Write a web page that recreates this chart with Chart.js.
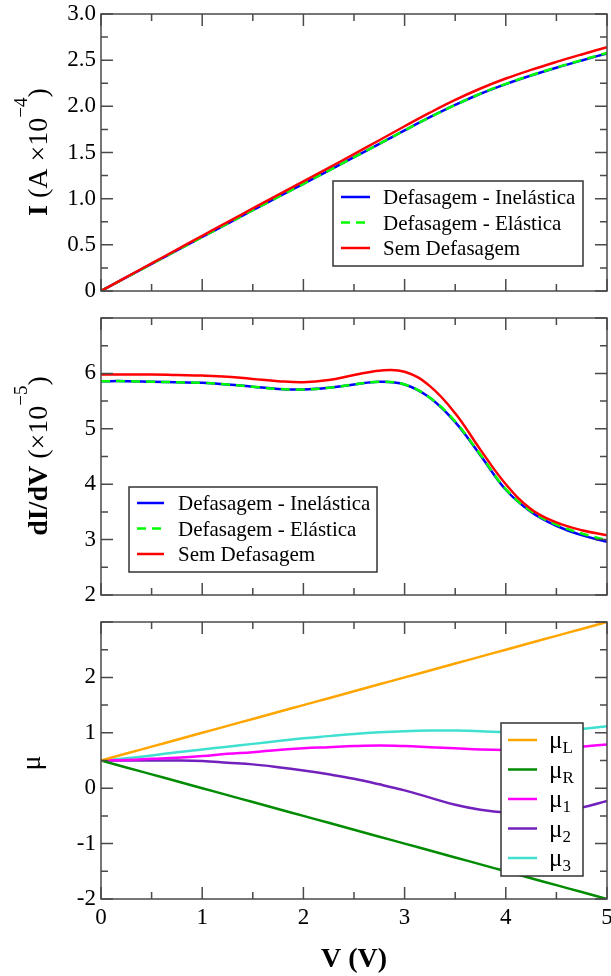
<!DOCTYPE html>
<html>
<head>
<meta charset="utf-8">
<script src="https://cdn.jsdelivr.net/npm/chart.js@4.4.1/dist/chart.umd.min.js"></script>
<style>
  body { margin: 0; background: #fff; }
  #wrap { position: relative; width: 611px; height: 976px; }
  canvas { position: absolute; left: 0; }
</style>
</head>
<body>
<div id="wrap">
  <canvas id="currentChart" style="top:0px" width="611" height="305"></canvas>
  <canvas id="conductanceChart" style="top:305px" width="611" height="305"></canvas>
  <canvas id="potentialChart" style="top:610px" width="611" height="366"></canvas>
</div>
<script>
const voltage = [0, 0.25, 0.5, 0.75, 1, 1.25, 1.5, 1.75, 2, 2.25, 2.5, 2.75, 3, 3.25, 3.5, 3.75, 4, 4.25, 4.5, 4.75, 5];

// I (A x 10^-4)
const currentInelastic = [0, 0.147, 0.293, 0.439, 0.585, 0.730, 0.875, 1.018, 1.161, 1.304, 1.449, 1.594, 1.740, 1.882, 2.015, 2.136, 2.241, 2.334, 2.418, 2.497, 2.573];
const currentElastic = [0, 0.147, 0.293, 0.439, 0.585, 0.730, 0.875, 1.018, 1.161, 1.304, 1.449, 1.594, 1.740, 1.882, 2.015, 2.137, 2.243, 2.336, 2.421, 2.501, 2.578];
const currentCoherent = [0, 0.150, 0.299, 0.448, 0.598, 0.746, 0.894, 1.041, 1.188, 1.334, 1.482, 1.633, 1.784, 1.931, 2.069, 2.193, 2.301, 2.395, 2.481, 2.562, 2.640];

// dI/dV (x 10^-5)
const condInelastic = [5.86, 5.86, 5.85, 5.84, 5.83, 5.80, 5.76, 5.72, 5.71, 5.74, 5.80, 5.85, 5.80, 5.56, 5.12, 4.52, 3.90, 3.50, 3.25, 3.08, 2.96];
const condElastic = [5.86, 5.86, 5.85, 5.84, 5.83, 5.80, 5.76, 5.72, 5.71, 5.74, 5.80, 5.85, 5.80, 5.56, 5.13, 4.53, 3.91, 3.51, 3.27, 3.11, 2.99];
const condCoherent = [5.98, 5.98, 5.98, 5.97, 5.96, 5.94, 5.90, 5.86, 5.84, 5.88, 5.97, 6.05, 6.03, 5.77, 5.28, 4.62, 4.00, 3.55, 3.31, 3.17, 3.08];

// chemical potentials
const muL = [0.5, 0.625, 0.75, 0.875, 1.0, 1.125, 1.25, 1.375, 1.5, 1.625, 1.75, 1.875, 2.0, 2.125, 2.25, 2.375, 2.5, 2.625, 2.75, 2.875, 3.0];
const muR = [0.5, 0.375, 0.25, 0.125, 0, -0.125, -0.25, -0.375, -0.5, -0.625, -0.75, -0.875, -1.0, -1.125, -1.25, -1.375, -1.5, -1.625, -1.75, -1.875, -2.0];
const mu1 = [0.50, 0.51, 0.53, 0.55, 0.58, 0.62, 0.65, 0.69, 0.72, 0.74, 0.76, 0.77, 0.76, 0.74, 0.72, 0.70, 0.69, 0.69, 0.71, 0.75, 0.79];
const mu2 = [0.50, 0.50, 0.50, 0.50, 0.49, 0.46, 0.43, 0.38, 0.32, 0.25, 0.17, 0.07, -0.04, -0.17, -0.30, -0.39, -0.44, -0.44, -0.41, -0.35, -0.23];
const mu3 = [0.50, 0.54, 0.59, 0.65, 0.70, 0.75, 0.80, 0.85, 0.90, 0.94, 0.98, 1.01, 1.03, 1.04, 1.04, 1.03, 1.01, 1.01, 1.03, 1.07, 1.12];

const dephasingLabels = ["Defasagem - Inelástica", "Defasagem - Elástica", "Sem Defasagem"];
const muSubs = ["L", "R", "1", "2", "3"];

const serif = '"Liberation Serif", "Times New Roman", serif';
const frameColor = "#4a4a4a";

Chart.defaults.font.family = serif;
Chart.defaults.color = "#000";

function pts(arr) {
  return voltage.map((v, i) => ({ x: v, y: arr[i] }));
}

function line(data, color, order, dash) {
  return {
    data: pts(data),
    borderColor: color,
    borderWidth: 2.5,
    borderDash: dash || [],
    pointRadius: 0,
    fill: false,
    tension: 0.4,
    order: order,
  };
}

function drawRuns(ctx, runs, x, y, align) {
  let total = 0;
  runs.forEach((r) => {
    ctx.font = r.font;
    r.w = ctx.measureText(r.text).width;
    total += r.w;
  });
  let cx = align === "center" ? x - total / 2 : x;
  ctx.textAlign = "left";
  ctx.textBaseline = "alphabetic";
  ctx.fillStyle = "#000";
  runs.forEach((r) => {
    ctx.font = r.font;
    ctx.fillText(r.text, cx, y + (r.dy || 0));
    cx += r.w;
  });
}

function decor(p) {
  return {
    id: "decor",
    afterDatasetsDraw(chart) {
      const { ctx, chartArea: a } = chart;
      const x = chart.scales.x;
      const y = chart.scales.y;
      ctx.save();
      ctx.strokeStyle = frameColor;
      ctx.lineWidth = 1.5;
      ctx.beginPath();
      for (let k = 0; k <= 10; k++) {
        const px = x.getPixelForValue(k * 0.5);
        const len = k % 2 === 0 ? 12 : 7;
        ctx.moveTo(px, a.bottom);
        ctx.lineTo(px, a.bottom - len);
        ctx.moveTo(px, a.top);
        ctx.lineTo(px, a.top + len);
      }
      const nY = Math.round((y.max - y.min) / p.yMinor);
      for (let k = 0; k <= nY; k++) {
        const py = y.getPixelForValue(y.min + k * p.yMinor);
        const len = k % 2 === 0 ? 12 : 7;
        ctx.moveTo(a.left, py);
        ctx.lineTo(a.left + len, py);
        ctx.moveTo(a.right, py);
        ctx.lineTo(a.right - len, py);
      }
      ctx.stroke();
      ctx.strokeRect(a.left, a.top, a.right - a.left, a.bottom - a.top);

      // legend box
      const lg = p.legend;
      ctx.fillStyle = "#fff";
      ctx.fillRect(lg.left, lg.top, lg.width, lg.height);
      ctx.strokeStyle = "#333";
      ctx.lineWidth = 1.5;
      ctx.strokeRect(lg.left, lg.top, lg.width, lg.height);
      lg.items.forEach((it, i) => {
        const ry = lg.top + lg.first + i * lg.step;
        ctx.strokeStyle = it.color;
        ctx.lineWidth = 2.5;
        ctx.setLineDash(it.dash || []);
        ctx.beginPath();
        ctx.moveTo(lg.left + lg.x0, ry);
        ctx.lineTo(lg.left + lg.x1, ry);
        ctx.stroke();
        ctx.setLineDash([]);
        drawRuns(ctx, it.runs, lg.left + lg.tx, ry + lg.dy, "left");
      });

      // y title (rotated)
      ctx.save();
      ctx.translate(p.yTitle.x, p.yTitle.y);
      ctx.rotate(-Math.PI / 2);
      drawRuns(ctx, p.yTitle.runs, 0, 0, "center");
      ctx.restore();

      if (p.xTitle) {
        drawRuns(ctx, p.xTitle.runs, (a.left + a.right) / 2, p.xTitle.y, "center");
      }
      ctx.restore();
    },
  };
}

function makeChart(id, cfg) {
  const ctx = document.getElementById(id).getContext("2d");
  return new Chart(ctx, {
    type: "line",
    data: { datasets: cfg.datasets },
    options: {
      responsive: false,
      animation: false,
      devicePixelRatio: 1,
      layout: { padding: { top: cfg.padTop, right: 4, left: 0, bottom: 0 } },
      plugins: { legend: { display: false }, tooltip: { enabled: false } },
      scales: {
        x: {
          type: "linear",
          min: 0,
          max: 5,
          grid: { display: false, drawTicks: false },
          border: { display: false },
          ticks: {
            display: cfg.showX,
            stepSize: 1,
            padding: 5,
            maxRotation: 0,
            autoSkip: false,
            color: "#000",
            font: { family: serif, size: 23 },
          },
          afterFit: (s) => {
            s.height = cfg.xHeight;
            s.paddingLeft = 0;
            s.paddingRight = 0;
          },
        },
        y: {
          min: cfg.yMin,
          max: cfg.yMax,
          grid: { display: false, drawTicks: false },
          border: { display: false },
          ticks: {
            stepSize: cfg.yStep,
            padding: 5,
            autoSkip: false,
            color: "#000",
            font: { family: serif, size: 23 },
            callback: cfg.yLabel,
          },
          afterFit: (s) => {
            s.width = 101;
            s.paddingTop = 0;
            s.paddingBottom = 0;
          },
        },
      },
    },
    plugins: [decor(cfg.decor)],
  });
}

const titleFont = "28px " + serif;
const titleBold = "bold 28px " + serif;
const supFont = "19px " + serif;
const legendFont = "21px " + serif;

function dephasingItems() {
  const colors = ["#0000ff", "#00ff00", "#ff0000"];
  return dephasingLabels.map((t, i) => ({
    color: colors[i],
    dash: i === 1 ? [9, 6] : [],
    runs: [{ text: t, font: legendFont }],
  }));
}

makeChart("currentChart", {
  padTop: 14,
  xHeight: 14,
  showX: false,
  yMin: 0,
  yMax: 3,
  yStep: 0.5,
  yLabel: (v) => (v === 0 ? "0" : v.toFixed(1)),
  datasets: [
    line(currentInelastic, "#0000ff", 2),
    line(currentElastic, "#00ff00", 1, [9, 6]),
    line(currentCoherent, "#ff0000", 0),
  ],
  decor: {
    yMinor: 0.25,
    legend: { left: 333, top: 181, width: 250, height: 85, first: 16, step: 25.5, x0: 8, x1: 37, tx: 50, dy: 7, items: dephasingItems() },
    yTitle: {
      x: 47,
      y: 152,
      runs: [
        { text: "I", font: titleBold },
        { text: " (A \u00d710", font: titleFont },
        { text: "\u22124", font: supFont, dy: -20 },
        { text: ")", font: titleFont },
      ],
    },
  },
});

makeChart("conductanceChart", {
  padTop: 13,
  xHeight: 15,
  showX: false,
  yMin: 2,
  yMax: 7,
  yStep: 1,
  yLabel: (v) => (v >= 7 ? "" : String(v)),
  datasets: [
    line(condInelastic, "#0000ff", 2),
    line(condElastic, "#00ff00", 1, [9, 6]),
    line(condCoherent, "#ff0000", 0),
  ],
  decor: {
    yMinor: 0.5,
    legend: { left: 129, top: 182, width: 248, height: 85, first: 16, step: 25.5, x0: 8, x1: 35, tx: 49, dy: 7, items: dephasingItems() },
    yTitle: {
      x: 47,
      y: 151,
      runs: [
        { text: "dI/dV", font: titleBold },
        { text: " (\u00d710", font: titleFont },
        { text: "\u22125", font: supFont, dy: -20 },
        { text: ")", font: titleFont },
      ],
    },
  },
});

const muColors = ["#ffa500", "#008b00", "#ff00ff", "#7221bc", "#40e0d0"];

makeChart("potentialChart", {
  padTop: 12,
  xHeight: 77,
  showX: true,
  yMin: -2,
  yMax: 3,
  yStep: 1,
  yLabel: (v) => (v >= 3 ? "" : String(v)),
  datasets: [
    line(muL, muColors[0], 0),
    line(muR, muColors[1], 1),
    line(mu1, muColors[2], 2),
    line(mu2, muColors[3], 3),
    line(mu3, muColors[4], 4),
  ],
  decor: {
    yMinor: 0.5,
    legend: {
      left: 501, top: 113, width: 82, height: 153, first: 17, step: 29.5, x0: 7, x1: 36, tx: 48, dy: 8,
      items: muSubs.map((s, i) => ({
        color: muColors[i],
        runs: [
          { text: "\u03bc", font: "25px " + serif },
          { text: s, font: "17px " + serif, dy: 5 },
        ],
      })),
    },
    yTitle: {
      x: 40,
      y: 153,
      runs: [{ text: "\u03bc", font: titleFont }],
    },
    xTitle: {
      y: 357,
      runs: [{ text: "V (V)", font: titleBold }],
    },
  },
});
</script>
</body>
</html>
